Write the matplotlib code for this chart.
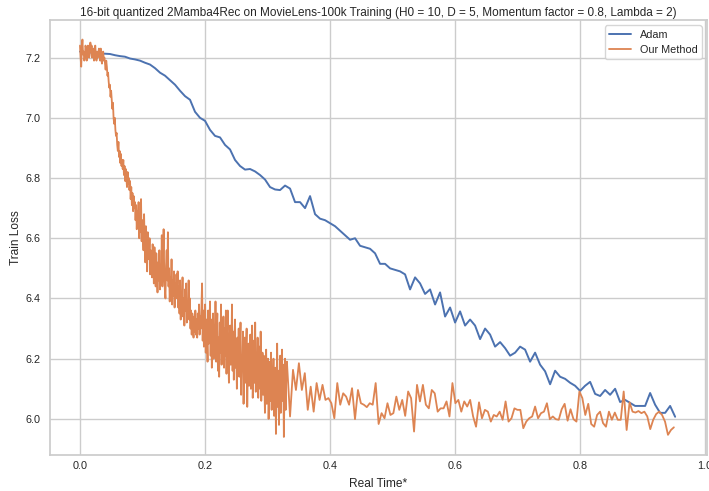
import matplotlib
matplotlib.use("Agg")
import matplotlib.pyplot as plt
import numpy as np
import seaborn as sns

sns.set_theme(style="whitegrid")
plt.rcParams['font.family'] = ['Liberation Sans', 'DejaVu Sans']

title = "16-bit quantized 2Mamba4Rec on MovieLens-100k Training (H0 = 10, D = 5, Momentum factor = 0.8, Lambda = 2)"

# Adam: evenly spaced in time from 0 to the last step
adam_t_end = 0.952
adam_loss = [
    7.220, 7.218, 7.217, 7.215, 7.213, 7.213, 7.212, 7.208, 7.205, 7.203,
    7.197, 7.194, 7.190, 7.183, 7.177, 7.165, 7.150, 7.140, 7.125, 7.110,
    7.090, 7.072, 7.060, 7.020, 7.000, 6.990, 6.960, 6.940, 6.935, 6.910,
    6.895, 6.860, 6.840, 6.828, 6.830, 6.822, 6.810, 6.795, 6.770, 6.762,
    6.760, 6.775, 6.765, 6.720, 6.720, 6.700, 6.740, 6.680, 6.665, 6.660,
    6.650, 6.640, 6.625, 6.610, 6.595, 6.600, 6.575, 6.570, 6.565, 6.550,
    6.515, 6.515, 6.500, 6.495, 6.490, 6.480, 6.430, 6.470, 6.450, 6.415,
    6.430, 6.380, 6.420, 6.340, 6.370, 6.320, 6.357, 6.310, 6.330, 6.310,
    6.265, 6.300, 6.280, 6.240, 6.255, 6.235, 6.210, 6.220, 6.240, 6.230,
    6.190, 6.220, 6.180, 6.158, 6.115, 6.160, 6.140, 6.133, 6.120, 6.110,
    6.093, 6.110, 6.123, 6.083, 6.076, 6.096, 6.080, 6.100, 6.056, 6.063,
    6.053, 6.043, 6.043, 6.043, 6.086, 6.047, 6.020, 6.020, 6.043, 6.007,
]

# Our Method, first part: many short steps
ours_dense_t_end = 0.331
ours_dense_loss = [
    7.24, 7.20, 7.17, 7.23, 7.26, 7.21, 7.22, 7.19, 7.20, 7.24, 7.23, 7.19, 7.21, 7.24, 7.23, 7.20, 7.21, 7.25, 7.22, 7.24,
    7.20, 7.22, 7.23, 7.19, 7.22, 7.24, 7.21, 7.19, 7.22, 7.20, 7.21, 7.23, 7.22, 7.19, 7.23, 7.20, 7.18, 7.21, 7.22, 7.19,
    7.20, 7.18, 7.16, 7.19, 7.17, 7.14, 7.15, 7.12, 7.10, 7.11, 7.07, 7.09, 7.06, 7.03, 7.05, 7.00, 6.98, 7.00, 6.96, 6.94,
    6.95, 6.91, 6.89, 6.92, 6.87, 6.89, 6.85, 6.88, 6.84, 6.86, 6.83, 6.86, 6.81, 6.84, 6.79, 6.83, 6.80, 6.77, 6.82, 6.78,
    6.80, 6.76, 6.79, 6.73, 6.77, 6.71, 6.75, 6.69, 6.74, 6.70, 6.72, 6.66, 6.71, 6.63, 6.69, 6.65, 6.72, 6.60, 6.67, 6.62,
    6.73, 6.59, 6.66, 6.61, 6.56, 6.68, 6.58, 6.52, 6.64, 6.55, 6.49, 6.62, 6.57, 6.53, 6.60, 6.48, 6.56, 6.51, 6.47, 6.58,
    6.53, 6.45, 6.57, 6.50, 6.44, 6.55, 6.48, 6.42, 6.52, 6.46, 6.56, 6.43, 6.51, 6.47, 6.61, 6.44, 6.52, 6.63, 6.49, 6.43,
    6.40, 6.51, 6.56, 6.46, 6.62, 6.44, 6.50, 6.39, 6.47, 6.42, 6.53, 6.38, 6.46, 6.41, 6.49, 6.37, 6.45, 6.40, 6.48, 6.42,
    6.49, 6.37, 6.44, 6.35, 6.46, 6.33, 6.42, 6.38, 6.47, 6.34, 6.40, 6.31, 6.43, 6.36, 6.45, 6.32, 6.39, 6.35, 6.46, 6.33,
    6.40, 6.30, 6.36, 6.28, 6.35, 6.31, 6.27, 6.34, 6.29, 6.36, 6.28, 6.33, 6.27, 6.35, 6.30, 6.38, 6.28, 6.34, 6.30, 6.37,
    6.45, 6.26, 6.36, 6.24, 6.31, 6.38, 6.22, 6.33, 6.27, 6.19, 6.36, 6.25, 6.30, 6.39, 6.21, 6.33, 6.17, 6.28, 6.35, 6.20,
    6.31, 6.23, 6.39, 6.19, 6.29, 6.35, 6.16, 6.27, 6.14, 6.32, 6.22, 6.38, 6.18, 6.29, 6.24, 6.34, 6.17, 6.30, 6.21, 6.36,
    6.15, 6.28, 6.36, 6.20, 6.12, 6.26, 6.31, 6.18, 6.23, 6.38, 6.16, 6.29, 6.13, 6.25, 6.33, 6.17, 6.22, 6.10, 6.27, 6.19,
    6.30, 6.14, 6.24, 6.32, 6.08, 6.21, 6.16, 6.29, 6.05, 6.19, 6.27, 6.12, 6.23, 6.30, 6.04, 6.18, 6.25, 6.11, 6.20, 6.28,
    6.10, 6.22, 6.31, 6.07, 6.17, 6.26, 6.12, 6.32, 6.09, 6.21, 6.14, 6.27, 6.07, 6.19, 6.24, 6.10, 6.29, 6.06, 6.18, 6.22,
    6.08, 6.21, 6.13, 6.02, 6.17, 6.23, 6.05, 6.14, 6.20, 6.00, 6.11, 6.19, 6.06, 6.22, 6.03, 6.15, 6.09, 6.20, 6.01, 6.12,
    6.17, 5.95, 6.10, 6.25, 6.04, 6.16, 5.98, 6.12, 6.21, 6.02, 6.14, 6.23, 6.06, 6.18, 5.94, 6.09, 6.20, 6.03, 6.15, 6.19,
]

# Our Method, second part: fewer, longer steps
ours_sparse_t = (0.336, 0.950)
ours_sparse_loss = [
    6.008, 6.163, 6.096, 6.185, 6.096, 6.152, 6.030, 6.107, 6.024, 6.119,
    6.063, 6.113, 6.063, 6.069, 6.052, 6.002, 6.119, 6.047, 6.085, 6.074,
    6.047, 6.102, 5.999, 6.096, 6.052, 6.047, 6.039, 6.052, 6.047, 6.119,
    5.983, 6.019, 6.002, 6.052, 6.013, 6.019, 6.074, 6.030, 6.063, 6.010,
    6.091, 6.069, 5.958, 6.113, 6.058, 6.113, 6.047, 6.035, 6.096, 6.085,
    6.024, 6.035, 6.035, 6.058, 6.008, 6.119, 6.052, 6.063, 6.024, 6.058,
    6.041, 6.063, 6.008, 5.974, 6.055, 6.002, 6.030, 6.024, 5.991, 6.013,
    6.008, 6.024, 5.997, 6.058, 5.991, 6.002, 6.035, 6.030, 6.030, 5.969,
    5.991, 6.002, 6.008, 6.041, 6.002, 6.019, 6.024, 6.052, 5.999, 6.008,
    5.999, 5.997, 6.032, 6.050, 5.994, 6.032, 5.999, 5.991, 6.091, 6.069,
    6.013, 6.050, 5.983, 5.974, 6.013, 6.024, 5.986, 5.974, 6.024, 5.997,
    6.021, 5.997, 5.997, 6.091, 5.963, 6.055, 6.024, 6.021, 6.026, 6.019,
    6.024, 6.008, 5.966, 5.997, 6.016, 6.024, 6.013, 5.991, 5.947, 5.963,
    5.972,
]


def draw():
    fig = plt.figure(figsize=(7.09, 4.91), dpi=100)
    ax = fig.add_axes([0.0705, 0.0733, 0.9267, 0.886])

    adam_t = np.linspace(0, adam_t_end, len(adam_loss))
    ours_t = np.concatenate([
        np.linspace(0, ours_dense_t_end, len(ours_dense_loss)),
        np.linspace(ours_sparse_t[0], ours_sparse_t[1], len(ours_sparse_loss)),
    ])
    ours_loss = ours_dense_loss + ours_sparse_loss

    ax.plot(adam_t, adam_loss, color="#4C72B0", linewidth=1.4, label="Adam")
    ax.plot(ours_t, ours_loss, color="#DD8452", linewidth=1.3, label="Our Method")

    ax.set_xlim(-0.048, 1.003)
    ax.set_ylim(5.88, 7.325)
    ax.set_title(title, fontsize=8.5, pad=3)
    ax.set_xlabel("Real Time*", fontsize=8.6, labelpad=5)
    ax.set_ylabel("Train Loss", fontsize=8.6, labelpad=2)
    ax.tick_params(length=0)
    ax.tick_params(axis="x", labelsize=7.8, pad=4.5)
    ax.tick_params(axis="y", labelsize=7.8, pad=7)
    ax.legend(loc="upper right", fontsize=7.8)

    fig.savefig("out.png", dpi=100)


if __name__ == "__main__":
    draw()
